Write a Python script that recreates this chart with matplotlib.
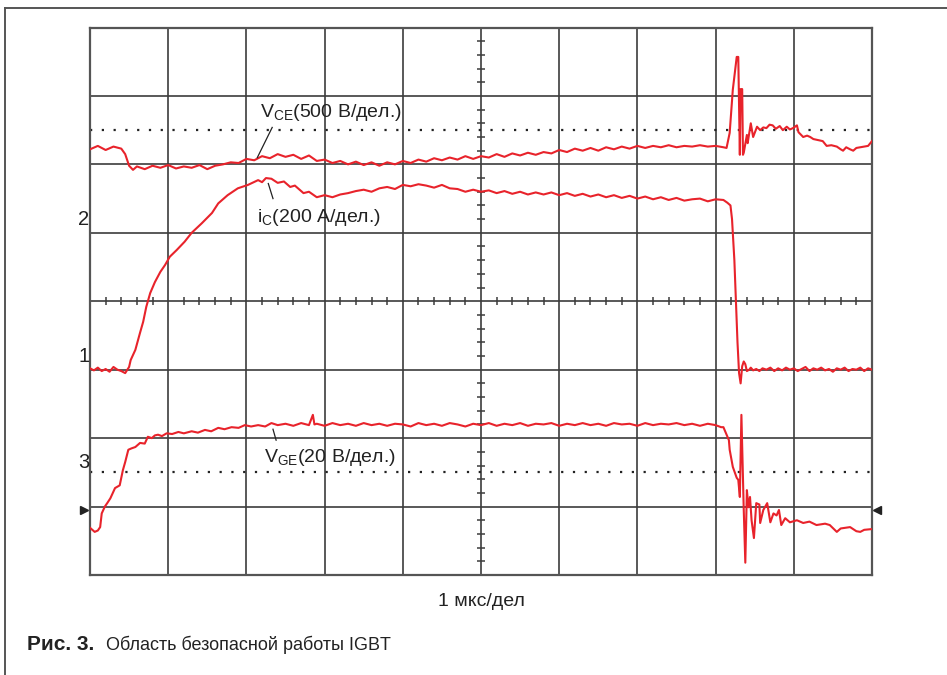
import numpy as np
import matplotlib
matplotlib.use("Agg")
import matplotlib.pyplot as plt
from matplotlib.lines import Line2D

plt.rcParams['font.family'] = ['Liberation Sans', 'DejaVu Sans']
plt.rcParams['mathtext.fontset'] = 'custom'
plt.rcParams['mathtext.rm'] = 'Liberation Sans'
plt.rcParams['mathtext.it'] = 'Liberation Sans'

# --- осциллограммы (единицы: деления экрана) ---
vce_t = [0.00, 0.10, 0.20, 0.30, 0.40, 0.45, 0.50, 0.55, 0.60, 0.70, 0.80, 0.90,
         1.00, 1.10, 1.20, 1.30, 1.40, 1.50, 1.60, 1.70, 1.80, 1.90, 2.00, 2.10,
         2.20, 2.30, 2.40, 2.50, 2.60, 2.70, 2.80, 2.90, 3.00, 3.10, 3.20, 3.30,
         3.40, 3.50, 3.60, 3.70, 3.80, 3.90, 4.00, 4.10, 4.20, 4.30, 4.40, 4.50,
         4.60, 4.70, 4.80, 4.90, 5.00, 5.10, 5.20, 5.30, 5.40, 5.50, 5.60, 5.70,
         5.80, 5.90, 6.00, 6.10, 6.20, 6.30, 6.40, 6.50, 6.60, 6.70, 6.80, 6.90,
         7.00, 7.10, 7.20, 7.30, 7.40, 7.50, 7.60, 7.70, 7.80, 7.90, 8.00, 8.10,
         8.14, 8.18, 8.22, 8.27, 8.29, 8.31, 8.32, 8.34, 8.35, 8.36, 8.40, 8.41,
         8.45, 8.48, 8.53, 8.57, 8.61, 8.65, 8.69, 8.73, 8.77, 8.82, 8.86, 8.91,
         8.95, 8.99, 9.04, 9.06, 9.12, 9.17, 9.21, 9.25, 9.29, 9.33, 9.37, 9.42,
         9.48, 9.55, 9.60, 9.63, 9.67, 9.72, 9.76, 9.80, 9.85, 9.90, 9.95, 10.0]
vce_v = [6.22, 6.27, 6.21, 6.26, 6.23, 6.15, 5.98, 5.92, 5.97, 5.93, 5.98, 5.95,
         5.99, 5.94, 5.97, 5.95, 5.99, 5.93, 5.98, 6.00, 6.03, 6.02, 6.08, 6.06,
         6.12, 6.09, 6.15, 6.11, 6.14, 6.08, 6.13, 6.05, 6.07, 6.02, 6.05, 6.00,
         6.04, 5.99, 6.03, 5.98, 6.03, 6.00, 6.05, 6.02, 6.07, 6.04, 6.09, 6.06,
         6.10, 6.07, 6.12, 6.08, 6.12, 6.10, 6.15, 6.11, 6.16, 6.13, 6.17, 6.14,
         6.18, 6.16, 6.21, 6.18, 6.23, 6.20, 6.24, 6.20, 6.25, 6.22, 6.26, 6.23,
         6.27, 6.24, 6.27, 6.25, 6.28, 6.25, 6.27, 6.26, 6.28, 6.26, 6.27, 6.25,
         6.24, 6.46, 7.09, 7.57, 7.57, 6.14, 7.10, 7.10, 6.14, 6.17, 6.43, 6.31,
         6.60, 6.40, 6.55, 6.50, 6.54, 6.53, 6.58, 6.57, 6.52, 6.56, 6.50, 6.55,
         6.51, 6.53, 6.57, 6.47, 6.40, 6.42, 6.40, 6.37, 6.36, 6.35, 6.34, 6.27,
         6.28, 6.26, 6.22, 6.20, 6.25, 6.22, 6.20, 6.24, 6.25, 6.26, 6.27, 6.34]

ic_t = [0.00, 0.05, 0.10, 0.15, 0.20, 0.25, 0.30, 0.35, 0.40, 0.45, 0.50, 0.52,
        0.58, 0.64, 0.68, 0.72, 0.77, 0.83, 0.90, 0.96, 1.02, 1.11, 1.21, 1.30,
        1.43, 1.56, 1.64, 1.76, 1.89, 2.02, 2.15, 2.20, 2.25, 2.32, 2.40, 2.48,
        2.56, 2.62, 2.73, 2.80, 2.90, 3.00, 3.10, 3.20, 3.30, 3.40, 3.50, 3.60,
        3.70, 3.80, 3.90, 4.00, 4.10, 4.20, 4.30, 4.40, 4.50, 4.60, 4.70, 4.80,
        4.90, 5.00, 5.10, 5.20, 5.30, 5.40, 5.50, 5.60, 5.70, 5.80, 5.90, 6.00,
        6.10, 6.20, 6.30, 6.40, 6.50, 6.60, 6.70, 6.80, 6.90, 7.00, 7.10, 7.20,
        7.30, 7.40, 7.50, 7.60, 7.70, 7.80, 7.90, 8.00, 8.10, 8.15, 8.19, 8.21,
        8.24, 8.26, 8.28, 8.30, 8.32, 8.34, 8.36, 8.38, 8.40, 8.43, 8.45, 8.48,
        8.52, 8.56, 8.60, 8.65, 8.70, 8.75, 8.80, 8.85, 8.90, 8.95, 9.00, 9.05,
        9.10, 9.15, 9.20, 9.25, 9.30, 9.35, 9.40, 9.45, 9.50, 9.55, 9.60, 9.65,
        9.70, 9.75, 9.80, 9.85, 9.90, 9.95, 10.0]
ic_v = [3.02, 2.99, 3.03, 2.98, 3.01, 2.97, 3.04, 3.00, 2.98, 2.95, 3.04, 3.14,
        3.29, 3.54, 3.70, 3.92, 4.12, 4.28, 4.43, 4.53, 4.65, 4.75, 4.87, 5.00,
        5.14, 5.29, 5.43, 5.55, 5.65, 5.70, 5.77, 5.74, 5.80, 5.79, 5.73, 5.75,
        5.67, 5.69, 5.58, 5.60, 5.52, 5.55, 5.52, 5.56, 5.58, 5.61, 5.63, 5.60,
        5.65, 5.67, 5.64, 5.70, 5.68, 5.71, 5.69, 5.66, 5.70, 5.65, 5.64, 5.60,
        5.63, 5.60, 5.62, 5.58, 5.61, 5.57, 5.60, 5.56, 5.59, 5.56, 5.59, 5.55,
        5.58, 5.54, 5.57, 5.53, 5.56, 5.52, 5.55, 5.51, 5.54, 5.50, 5.53, 5.49,
        5.52, 5.48, 5.51, 5.47, 5.49, 5.50, 5.46, 5.49, 5.48, 5.44, 5.40, 5.20,
        4.60, 4.00, 3.40, 2.95, 2.80, 3.05, 3.12, 3.08, 2.98, 3.00, 3.03, 2.99,
        3.01, 2.98, 3.02, 3.00, 3.03, 2.98, 3.02, 2.99, 3.03, 3.00, 3.02, 2.98,
        3.01, 3.04, 2.98, 3.02, 3.00, 3.03, 2.99, 3.01, 2.97, 3.02, 3.00, 3.03,
        2.98, 3.01, 3.00, 3.03, 2.98, 3.02, 3.00]

vge_t = [0.00, 0.06, 0.10, 0.13, 0.15, 0.19, 0.22, 0.26, 0.32, 0.38, 0.42, 0.45,
         0.49, 0.53, 0.58, 0.64, 0.70, 0.74, 0.79, 0.83, 0.87, 0.92, 0.98, 1.05,
         1.13, 1.20, 1.30, 1.38, 1.47, 1.55, 1.64, 1.72, 1.81, 1.90, 1.98, 2.06,
         2.15, 2.24, 2.32, 2.40, 2.50, 2.60, 2.70, 2.80, 2.85, 2.87, 2.90, 3.00,
         3.10, 3.20, 3.30, 3.40, 3.50, 3.60, 3.70, 3.80, 3.90, 4.00, 4.10, 4.20,
         4.30, 4.40, 4.50, 4.60, 4.70, 4.80, 4.90, 5.00, 5.10, 5.20, 5.30, 5.40,
         5.50, 5.60, 5.70, 5.80, 5.90, 6.00, 6.10, 6.20, 6.30, 6.40, 6.50, 6.60,
         6.70, 6.80, 6.90, 7.00, 7.10, 7.20, 7.30, 7.40, 7.50, 7.60, 7.70, 7.80,
         7.90, 8.00, 8.07, 8.10, 8.17, 8.18, 8.22, 8.27, 8.29, 8.31, 8.33, 8.36,
         8.38, 8.40, 8.42, 8.44, 8.46, 8.49, 8.52, 8.56, 8.57, 8.61, 8.66, 8.70,
         8.74, 8.78, 8.81, 8.84, 8.89, 8.95, 9.04, 9.12, 9.20, 9.29, 9.40, 9.46,
         9.55, 9.60, 9.72, 9.80, 9.85, 9.90, 9.99]
vge_v = [0.69, 0.63, 0.65, 0.70, 0.90, 1.00, 1.05, 1.12, 1.27, 1.31, 1.53, 1.65,
         1.83, 1.85, 1.87, 1.93, 1.92, 2.02, 2.00, 2.04, 2.05, 2.03, 2.07, 2.06,
         2.09, 2.07, 2.10, 2.08, 2.12, 2.10, 2.15, 2.13, 2.16, 2.15, 2.19, 2.17,
         2.19, 2.17, 2.22, 2.19, 2.21, 2.18, 2.22, 2.19, 2.34, 2.20, 2.21, 2.18,
         2.22, 2.19, 2.21, 2.18, 2.22, 2.19, 2.21, 2.18, 2.21, 2.20, 2.17, 2.22,
         2.19, 2.21, 2.18, 2.22, 2.20, 2.17, 2.21, 2.19, 2.22, 2.18, 2.21, 2.19,
         2.22, 2.18, 2.21, 2.20, 2.22, 2.18, 2.21, 2.19, 2.22, 2.19, 2.21, 2.18,
         2.22, 2.20, 2.21, 2.18, 2.22, 2.19, 2.21, 2.20, 2.22, 2.19, 2.21, 2.18,
         2.21, 2.19, 2.16, 2.16, 1.97, 1.83, 1.58, 1.42, 1.39, 1.14, 2.34, 0.95,
         0.18, 1.24, 0.99, 1.14, 0.80, 0.54, 1.05, 1.03, 0.76, 0.95, 1.05, 0.77,
         0.90, 0.87, 0.95, 0.73, 0.83, 0.77, 0.80, 0.76, 0.78, 0.73, 0.75, 0.73,
         0.63, 0.68, 0.70, 0.64, 0.63, 0.66, 0.67]

ref_levels = [6.5, 1.5]          # пунктирные уровни
channel_marks = [('2', 5.19), ('1', 3.2), ('3', 1.64)]
ground_level = 0.95

red = '#e8232b'
grid_c = '#3c3c3c'

fig = plt.figure(figsize=(9.47, 6.75), dpi=100)
ax = fig.add_axes([90 / 947, 1 - 575 / 675, 782 / 947, 547.5 / 675])
ax.set_xlim(0, 10)
ax.set_ylim(0, 8)
ax.set_xticks([])
ax.set_yticks([])
for s in ax.spines.values():
    s.set_color('#555555')
    s.set_linewidth(1.6)

# сетка осциллографа
ax.vlines(np.arange(1, 10), 0, 8, color=grid_c, lw=1.2, zorder=1)
ax.hlines(np.arange(1, 8), 0, 10, color=grid_c, lw=1.2, zorder=1)

# мелкие деления на центральных осях
xt = [v for v in np.arange(0.2, 10, 0.2) if abs(v - round(v)) > 1e-6]
yt = [v for v in np.arange(0.2, 8, 0.2) if abs(v - round(v)) > 1e-6]
ax.vlines(xt, 4 - 0.055, 4 + 0.055, color=grid_c, lw=1.1, zorder=1)
ax.hlines(yt, 5 - 0.045, 5 + 0.045, color=grid_c, lw=1.1, zorder=1)

for lv in ref_levels:
    ax.plot([0, 10], [lv, lv], color='#222222', lw=1.6,
            dashes=(1, 4.3), zorder=1)

# осциллограммы
ax.plot(vce_t, vce_v, color=red, lw=1.5, zorder=3)
ax.plot(ic_t, ic_v, color=red, lw=1.5, zorder=3)
ax.plot(vge_t, vge_v, color=red, lw=1.5, zorder=3)

# подписи каналов
tc = '#222222'
ax.text(2.18, 6.69, r'V$_{\mathrm{CE}}$(500 В/дел.)', fontsize=14,
        color=tc, va='baseline', ha='left')
ax.plot([2.33, 2.14], [6.54, 6.10], color=tc, lw=0.9, zorder=4)
ax.text(2.13, 5.16, r'i$_{\mathrm{C}}$(200 А/дел.)', fontsize=14,
        color=tc, va='baseline', ha='left')
ax.plot([2.28, 2.34], [5.72, 5.50], color=tc, lw=0.9, zorder=4)
ax.text(2.23, 1.65, r'V$_{\mathrm{GE}}$(20 В/дел.)', fontsize=14,
        color=tc, va='baseline', ha='left')
ax.plot([2.34, 2.38], [2.13, 1.97], color=tc, lw=0.9, zorder=4)

for lab, yv in channel_marks:
    ax.text(-0.01, yv, lab, fontsize=14.5, color=tc, ha='right',
            va='center')

ax.plot([-0.075], [ground_level], marker='>', ms=6, color='#222222',
        clip_on=False, ls='none')
ax.plot([10.07], [ground_level], marker='<', ms=6, color='#222222',
        clip_on=False, ls='none')

# рамка рисунка
fig.add_artist(Line2D([5 / 947, 5 / 947], [0, 1 - 8 / 675],
                      transform=fig.transFigure, color='#555555', lw=1.4))
fig.add_artist(Line2D([5 / 947, 1], [1 - 8 / 675, 1 - 8 / 675],
                      transform=fig.transFigure, color='#555555', lw=1.4))

fig.text(481 / 947, 1 - 601 / 675, '1 мкс/дел', fontsize=14,
         color=tc, ha='center', va='center')
fig.text(27 / 947, 1 - 645 / 675, 'Рис. 3.', fontsize=15, weight='bold',
         color=tc, ha='left', va='center')
fig.text(106 / 947, 1 - 645 / 675, 'Область безопасной работы IGBT',
         fontsize=13, color=tc, ha='left', va='center')

fig.savefig('out.png', dpi=100)
